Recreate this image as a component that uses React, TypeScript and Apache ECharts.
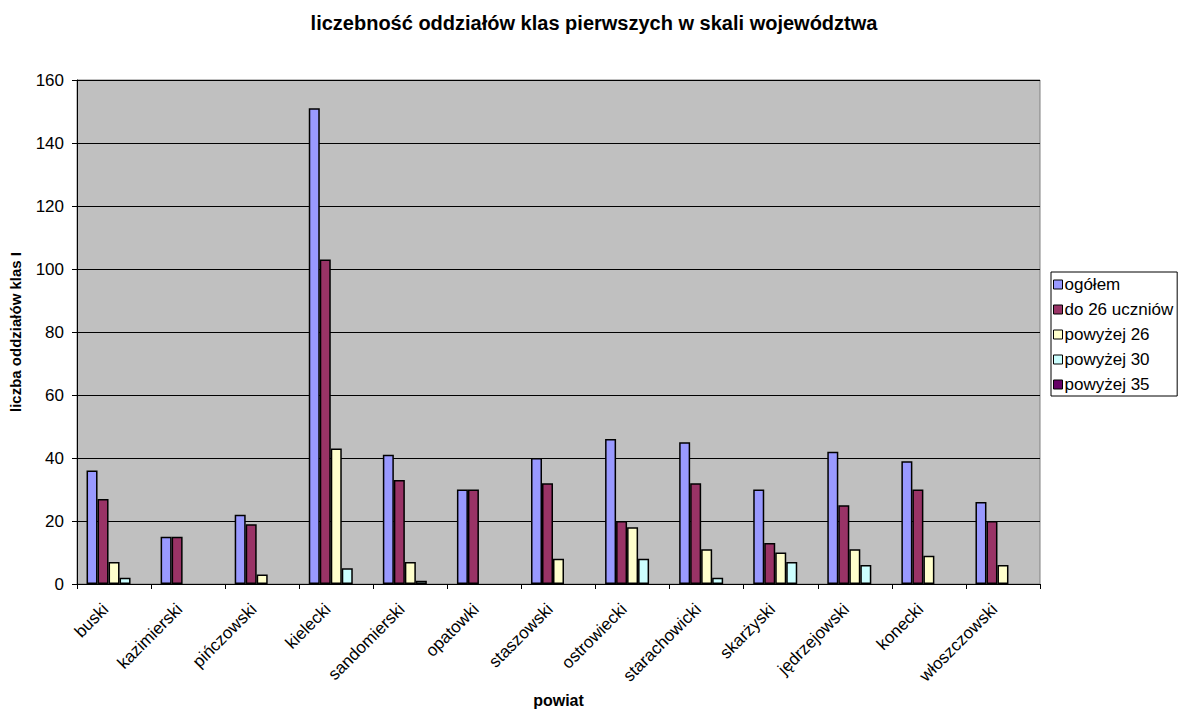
import React, { useEffect, useRef } from "react";
import * as echarts from "echarts";

const categories = [
  "buski", "kazimierski", "pińczowski", "kielecki", "sandomierski", "opatowki",
  "staszowski", "ostrowiecki", "starachowicki", "skarżyski", "jędrzejowski", "konecki", "włoszczowski",
];
const seriesNames = ["ogółem", "do 26 uczniów", "powyżej 26", "powyżej 30", "powyżej 35"];
const ogolem = [36, 15, 22, 151, 41, 30, 40, 46, 45, 30, 42, 39, 26];
const do26 = [27, 15, 19, 103, 33, 30, 32, 20, 32, 13, 25, 30, 20];
const pow26 = [7, 0, 3, 43, 7, 0, 8, 18, 11, 10, 11, 9, 6];
const pow30 = [2, 0, 0, 5, 1, 0, 0, 8, 2, 7, 6, 0, 0];
const pow35 = [0, 0, 0, 0, 0, 0, 0, 0, 0, 0, 0, 0, 0];
const colors = ["#9999FF", "#993366", "#FFFFCC", "#CCFFFF", "#660066"];
const yTicks = { min: 0, max: 160, interval: 20 };

const FONT = "'Liberation Sans', Arial, sans-serif";

export default function App() {
  const ref = useRef<HTMLDivElement>(null);
  useEffect(() => {
    if (!ref.current) return;
    const chart = echarts.init(ref.current, undefined, { renderer: "svg" });
    const data = [ogolem, do26, pow26, pow30, pow35];
    chart.setOption({
      animation: false,
      backgroundColor: "#FFFFFF",
      textStyle: { fontFamily: FONT },
      title: {
        text: "liczebność oddziałów klas pierwszych w skali województwa",
        left: 589,
        textAlign: "center",
        top: 8,
        textStyle: { fontSize: 20, fontWeight: "bold", color: "#000", fontFamily: FONT },
      },
      legend: {
        orient: "vertical",
        left: 1051,
        top: 272,
        padding: [4, 4, 3, 2],
        itemWidth: 9,
        itemHeight: 9,
        itemGap: 8,
        icon: "rect",
        borderColor: "#000",
        borderWidth: 1,
        backgroundColor: "#fff",
        borderRadius: 0,
        itemStyle: { borderColor: "#000", borderWidth: 1 },
        textStyle: { fontSize: 17, color: "#000", fontFamily: FONT, padding: [0, 0, 0, -3] },
        data: seriesNames,
      },
      grid: {
        left: 77,
        right: 140,
        top: 80,
        bottom: 125,
        containLabel: false,
        outerBoundsMode: "none",
        show: true,
        backgroundColor: "#C0C0C0",
        borderColor: "#808080",
        borderWidth: 1,
      },
      xAxis: {
        type: "category",
        data: categories,
        name: "powiat",
        nameLocation: "middle",
        nameGap: 108,
        nameMoveOverlap: false,
        nameTextStyle: { fontSize: 16, fontWeight: "bold", color: "#000", fontFamily: FONT, verticalAlign: "top" },
        axisLine: { lineStyle: { color: "#000", width: 1 } },
        axisTick: { show: true, length: 5, lineStyle: { color: "#000" } },
        axisLabel: {
          rotate: 45,
          fontSize: 17,
          color: "#000",
          interval: 0,
          margin: 14,
          padding: [0, 12, 0, 0],
          fontFamily: FONT,
        },
      },
      yAxis: {
        type: "value",
        min: yTicks.min,
        max: yTicks.max,
        interval: yTicks.interval,
        name: "liczba oddziałów klas I",
        nameLocation: "middle",
        nameGap: 54,
        nameRotate: 90,
        nameMoveOverlap: false,
        nameTextStyle: { fontSize: 15, fontWeight: "bold", color: "#000", fontFamily: FONT },
        axisLine: { show: true, lineStyle: { color: "#000", width: 1 } },
        axisTick: { show: true, length: 5, lineStyle: { color: "#000" } },
        axisLabel: { fontSize: 17, color: "#000", margin: 13, fontFamily: FONT },
        splitLine: { show: true, lineStyle: { color: "#000", width: 1 } },
      },
      series: seriesNames.map((name, i) => ({
        name,
        type: "bar",
        data: data[i].map((v) => (v === 0 ? null : v)),
        barWidth: 11,
        barGap: "0%",
        itemStyle: { color: colors[i], borderColor: "#000", borderWidth: 1.5 },
      })),
    });
    return () => chart.dispose();
  }, []);
  return (
    <div
      ref={ref}
      style={{ position: "fixed", left: 0, top: 0, width: 1180, height: 709 }}
    />
  );
}
